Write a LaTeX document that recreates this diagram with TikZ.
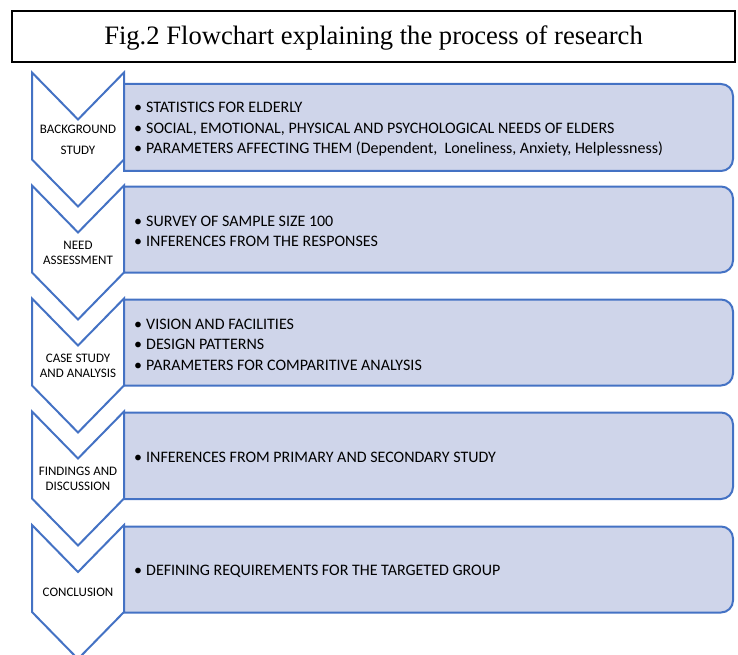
\documentclass[tikz,border=0pt]{standalone}
\usepackage{fontspec}
\setmainfont{Carlito}
\newfontfamily\titlefont{Liberation Serif}
\usetikzlibrary{positioning}
\definecolor{chevblue}{HTML}{4472C4}
\definecolor{listfill}{HTML}{CFD5EA}
\newcommand{\bul}{\makebox[12pt][l]{\textbullet}}

\begin{document}
\begin{tikzpicture}[x=1pt,y=-1pt,
    chevron/.style={draw=chevblue, line width=2pt, fill=white, line join=miter},
    listbox/.style={draw=chevblue, line width=2pt, fill=listfill},
    steplabel/.style={font=\fontsize{13}{15}\selectfont, align=center, inner sep=0pt},
    itemtext/.style={font=\fontsize{16}{20.5}\selectfont, align=left, anchor=west, inner sep=0pt}]
    \useasboundingbox (0,0) rectangle (738,655);

    % title
    \draw[line width=1.5pt] (12,11) rectangle (735,62);
    \node[font=\titlefont\fontsize{26.6}{30}\selectfont, anchor=base] (title) at (373.5,45) {Fig.2 Flowchart explaining the process of research};

    % chevrons with their lists
    \foreach \i/\ct/\rt/\rb/\lab/\items in {
        0/72.5/84/171/{BACKGROUND\\[6pt]STUDY}/{\bul STATISTICS FOR ELDERLY\\ \bul SOCIAL, EMOTIONAL, PHYSICAL AND PSYCHOLOGICAL NEEDS OF ELDERS\\ \bul PARAMETERS AFFECTING THEM (Dependent,~ Loneliness, Anxiety, Helplessness)},
        1/185.5/186.5/272.5/{NEED\\ASSESSMENT}/{\bul SURVEY OF SAMPLE SIZE 100\\ \bul INFERENCES FROM THE RESPONSES},
        2/298.5/299.5/385.5/{CASE STUDY\\AND ANALYSIS}/{\bul VISION AND FACILITIES\\ \bul DESIGN PATTERNS\\ \bul PARAMETERS FOR COMPARITIVE ANALYSIS},
        3/411.5/412.5/499/{FINDINGS AND\\DISCUSSION}/{\bul INFERENCES FROM PRIMARY AND SECONDARY STUDY},
        4/525/526.5/612.5/{CONCLUSION}/{\bul DEFINING REQUIREMENTS FOR THE TARGETED GROUP}} {
        \draw[chevron] (32,\ct) -- (78,\ct+47) -- (124,\ct) -- (124,\ct+87) -- (78,\ct+134) -- (32,\ct+87) -- cycle;
        \draw[listbox] (124,\rt) -- (721,\rt) arc[start angle=90, end angle=0, radius=12pt] -- (733,\rb-12) arc[start angle=0, end angle=-90, radius=12pt] -- (124,\rb) -- cycle;
        \node[steplabel] (step\i) at (78,\ct+67.5) {\lab};
        \node[itemtext] (list\i) at (134,{(\rt+\rb)/2+2}) {\items};
    }
\end{tikzpicture}
\end{document}
